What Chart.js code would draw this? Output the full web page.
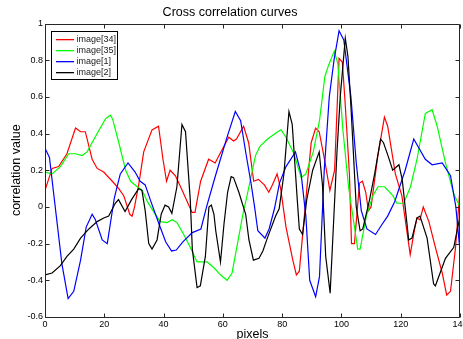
<!DOCTYPE html>
<html>
<head>
<meta charset="utf-8">
<script src="https://cdn.jsdelivr.net/npm/chart.js@4.4.0/dist/chart.umd.min.js"></script>
<style>
  html, body { margin: 0; padding: 0; background: #fff; }
  #wrap { width: 463px; height: 339px; }
</style>
</head>
<body>
<div id="wrap"><canvas id="xcorr" width="463" height="339"></canvas></div>
<script>
// values (x = pixel shift, y = correlation)
const seriesNames = ["image[34]", "image[35]", "image[1]", "image[2]"];
const seriesColors = ["#ff0000", "#00ff00", "#0000ff", "#000000"];

const redX = [0, 2.4, 4.6, 7.4, 10.3, 12, 13.6, 15.9, 17.6, 19.8, 22.7, 24.9, 26.6, 28.6, 29.4, 30.2, 31.6, 33.3, 36.1, 38.3,
  39.8, 41, 42.2, 44, 46, 49.6, 50.6, 52.5, 55.2, 57.4, 60, 62, 63.6, 64.6, 67, 68.7, 70.4, 72, 74, 75.5,
  76.7, 78.3, 79.5, 81.3, 83.6, 84.8, 85.8, 88, 89.8, 91.3, 92.5, 94.4, 96.1, 97.7, 99.2, 100.3, 101.2, 102.7, 103.4, 104.4,
  106.1, 107.1, 108.2, 109.1, 110, 112.2, 114.5, 115.6, 116.7, 118.2, 120.4, 123.2, 124.7, 125.5, 126.5, 127.6, 129.5, 131.7, 134, 135.5,
  136.8, 138.5, 140];
const redY = [0.09, 0.21, 0.22, 0.29, 0.43, 0.41, 0.41, 0.26, 0.21, 0.19, 0.14, 0.10, 0.06, -0.04, -0.05, 0.0, 0.12, 0.30, 0.42, 0.44,
  0.26, 0.14, 0.20, 0.17, 0.10, -0.03, -0.03, 0.14, 0.26, 0.24, 0.32, 0.38, 0.36, 0.37, 0.44, 0.35, 0.14, 0.15, 0.12, 0.08,
  0.12, 0.18, 0.10, -0.11, -0.29, -0.37, -0.35, 0.04, 0.35, 0.43, 0.41, 0.25, 0.09, 0.20, 0.81, 0.79, 0.58, 0.18, -0.20, -0.20,
  0.13, 0.14, 0.08, -0.02, 0.0, 0.27, 0.49, 0.44, 0.33, 0.18, 0.06, -0.26, -0.12, -0.06, -0.07, 0.0, -0.08, -0.22, -0.36, -0.48,
  -0.46, -0.22, 0.10];

const greenX = [0, 2.4, 5.2, 8, 10.3, 12.5, 14.2, 17.6, 20.4, 22, 22.8, 24.9, 27.2, 28.9, 31.1, 32.8, 34.5, 36.8, 38.9, 41.2,
  42.9, 44.5, 46.8, 49, 51.3, 54.7, 56.9, 59.2, 61.4, 63.1, 67, 68, 71, 72.5, 75.1, 78.5, 79.6, 81.3, 84, 86.4,
  88, 90.5, 92.6, 94.4, 95.6, 97.6, 98.8, 100.5, 102.4, 105.5, 106.3, 108.4, 110.6, 112.3, 114.6, 117.4, 118.7, 121, 123.3, 125.5,
  128.3, 130.6, 132.3, 135.1, 137.9, 140];
const greenY = [0.19, 0.18, 0.22, 0.29, 0.29, 0.28, 0.30, 0.40, 0.48, 0.50, 0.48, 0.35, 0.20, 0.14, 0.11, 0.09, 0.03, -0.03, -0.08, -0.085,
  -0.07, -0.085, -0.15, -0.22, -0.30, -0.30, -0.33, -0.37, -0.40, -0.36, -0.02, 0.05, 0.28, 0.33, 0.37, 0.41, 0.42, 0.38, 0.29, 0.16,
  0.18, 0.30, 0.47, 0.71, 0.77, 0.85, 0.78, 0.42, 0.11, -0.23, -0.23, -0.05, 0.06, 0.11, 0.11, 0.06, 0.02, 0.02, 0.11, 0.26,
  0.51, 0.53, 0.44, 0.24, 0.07, 0.0];

const blueX = [0, 1.5, 5.7, 7.8, 9.7, 12, 13.9, 15.9, 17, 19.3, 21, 23.4, 25.4, 28, 30.4, 32.1, 33.8, 35.5, 38.4, 40.7,
  42.7, 44.3, 46.5, 49.7, 52.6, 54.5, 57.5, 61.6, 64.2, 66, 67.8, 69.5, 70.7, 71.8, 74.2, 75.6, 77.4, 79.1, 81.3, 84.5,
  86.4, 88, 89.3, 91.3, 92.6, 94.2, 95.9, 97.5, 99.2, 100.8, 103.2, 105, 106.7, 108.6, 111.5, 113.5, 115.6, 118, 121.5, 124.4,
  128.3, 130.6, 134, 136.8, 138.6, 140];
const blueY = [0.32, 0.27, -0.31, -0.50, -0.46, -0.29, -0.11, -0.04, -0.07, -0.18, -0.20, 0.05, 0.18, 0.24, 0.19, 0.14, 0.12, 0.04, -0.09, -0.19,
  -0.24, -0.235, -0.19, -0.14, -0.12, 0.0, 0.17, 0.39, 0.52, 0.47, 0.29, 0.13, 0.0, -0.13, -0.17, -0.12, -0.01, 0.13, 0.22, 0.30,
  0.18, -0.05, -0.40, -0.49, -0.38, 0.20, 0.60, 0.80, 0.96, 0.91, 0.60, 0.24, -0.02, -0.12, -0.15, -0.10, -0.05, 0.03, 0.20, 0.37,
  0.26, 0.23, 0.24, 0.17, 0.0, -0.24];

const blackX = [0, 2.4, 5.2, 7.4, 9.7, 12, 14.8, 17.6, 19.8, 21.5, 23.7, 24.8, 27, 29.2, 31.6, 32.7, 33.8, 35, 36.1, 37.8,
  39.2, 40.5, 41.7, 42.8, 44.5, 46.2, 47.4, 49, 49.7, 51.3, 52.4, 54.1, 55.3, 56.1, 57, 57.6, 59.2, 60.4, 61.6, 62.8,
  63.6, 65.4, 67.7, 68.8, 70.3, 72.2, 73.5, 75, 77.8, 79, 80.6, 82.3, 83.4, 85.1, 85.8, 86.9, 88.3, 90.3, 92.5, 93.6,
  94.7, 96.2, 98.5, 99.6, 101.3, 102.2, 103.2, 105, 106.3, 107.2, 109.5, 111.2, 113.2, 114.2, 115.7, 117.3, 119.4, 120.5, 122.7, 123.8,
  125.5, 126.5, 128.9, 131.1, 131.7, 135.1, 137.9, 140];
const blackY = [-0.37, -0.36, -0.32, -0.27, -0.23, -0.17, -0.12, -0.08, -0.06, -0.05, 0.02, 0.04, -0.025, 0.04, 0.10, 0.09, -0.02, -0.20, -0.23, -0.18,
  -0.04, 0.01, 0.0, -0.035, 0.11, 0.45, 0.41, 0.04, -0.23, -0.44, -0.43, -0.27, 0.0, 0.01, -0.04, -0.13, -0.30, -0.09, 0.08, 0.165,
  0.16, 0.08, -0.04, -0.18, -0.29, -0.28, -0.24, -0.17, -0.05, -0.01, 0.18, 0.52, 0.45, 0.04, -0.12, -0.15, 0.04, 0.20, 0.30, 0.12,
  -0.27, -0.47, 0.30, 0.60, 0.92, 0.82, 0.55, 0.0, -0.13, -0.12, 0.04, 0.18, 0.37, 0.35, 0.28, 0.20, 0.23, 0.15, -0.18, -0.17,
  -0.06, -0.05, -0.17, -0.42, -0.43, -0.28, -0.22, -0.05];

const seriesX = [redX, greenX, blueX, blackX];
const seriesY = [redY, greenY, blueY, blackY];

const FONT = "'Liberation Sans', Arial, Helvetica, sans-serif";

// matlab style box with inward ticks, plus the boxed legend in the corner
const matlabBox = {
  id: 'matlabBox',
  afterDraw(chart) {
    const {ctx, chartArea: a, scales: {x, y}} = chart;
    const L = Math.round(a.left) + 0.5, R = Math.round(a.right) - 0.5;
    const T = Math.round(a.top) + 0.5, B = Math.round(a.bottom) + 0.5;
    ctx.save();
    ctx.strokeStyle = '#262626';
    ctx.lineWidth = 1;
    ctx.beginPath();
    ctx.moveTo(L, T); ctx.lineTo(R, T); ctx.lineTo(R, B); ctx.lineTo(L, B); ctx.closePath();
    x.ticks.forEach(t => {
      const px = Math.round(x.getPixelForValue(t.value)) + 0.5;
      ctx.moveTo(px, B); ctx.lineTo(px, B - 4);
      ctx.moveTo(px, T); ctx.lineTo(px, T + 4);
    });
    y.ticks.forEach(t => {
      const py = Math.round(y.getPixelForValue(t.value)) + 0.5;
      ctx.moveTo(L, py); ctx.lineTo(L + 4, py);
      ctx.moveTo(R, py); ctx.lineTo(R - 4, py);
    });
    ctx.stroke();

    // legend
    const lx = L + 6, ly = T + 7, lw = 66, lh = 48;
    ctx.fillStyle = '#fff';
    ctx.fillRect(lx, ly, lw, lh);
    ctx.strokeStyle = '#000';
    ctx.strokeRect(lx, ly, lw, lh);
    ctx.font = '9px ' + FONT;
    ctx.textBaseline = 'middle';
    ctx.textAlign = 'left';
    seriesNames.forEach((name, i) => {
      const ry = Math.round(ly + 7 + i * 11.3);
      ctx.fillStyle = seriesColors[i];
      ctx.fillRect(Math.round(lx + 4), ry, 18, 1.3);
      ctx.fillStyle = '#222';
      ctx.fillText(name, lx + 25, ry + 0.5);
    });
    ctx.restore();
  }
};

const datasets = seriesNames.map((name, i) => ({
  label: name,
  data: seriesX[i].map((v, j) => ({x: v, y: seriesY[i][j]})),
  borderColor: seriesColors[i],
  backgroundColor: seriesColors[i],
  borderWidth: 1.2,
  pointRadius: 0,
  tension: 0,
  fill: false,
  order: 3 - i
}));

new Chart(document.getElementById('xcorr'), {
  type: 'line',
  data: { datasets },
  options: {
    responsive: false,
    animation: false,
    layout: { padding: { left: 0, right: 3, top: 0, bottom: 0 } },
    plugins: {
      legend: { display: false },
      tooltip: { enabled: false },
      title: {
        display: true,
        text: 'Cross correlation curves',
        color: '#000',
        font: { family: FONT, size: 12.5, weight: 'normal' },
        padding: { top: 5, bottom: 3.5 }
      }
    },
    scales: {
      x: {
        type: 'linear',
        min: 0,
        max: 140,
        grid: { display: false, drawTicks: false },
        border: { display: false },
        ticks: { stepSize: 20, color: '#000', padding: 2, maxRotation: 0, autoSkip: false,
                 font: { family: FONT, size: 9 } },
        title: { display: true, text: 'pixels', color: '#000',
                 font: { family: FONT, size: 12.5 }, padding: { top: 0, bottom: -3.5 } },
        afterFit(s) { s.height = 22; s.paddingLeft = 0; s.paddingRight = 0; }
      },
      y: {
        min: -0.6,
        max: 1,
        grid: { display: false, drawTicks: false },
        border: { display: false },
        ticks: { stepSize: 0.2, color: '#000', padding: 2,
                 font: { family: FONT, size: 9 },
                 callback: v => String(Math.round(v * 10) / 10) },
        title: { display: true, text: 'correlation value', color: '#000',
                 font: { family: FONT, size: 12.5 }, padding: { top: 9, bottom: 0 } },
        afterFit(s) { s.width = 45; }
      }
    }
  },
  plugins: [matlabBox]
});
</script>
</body>
</html>
